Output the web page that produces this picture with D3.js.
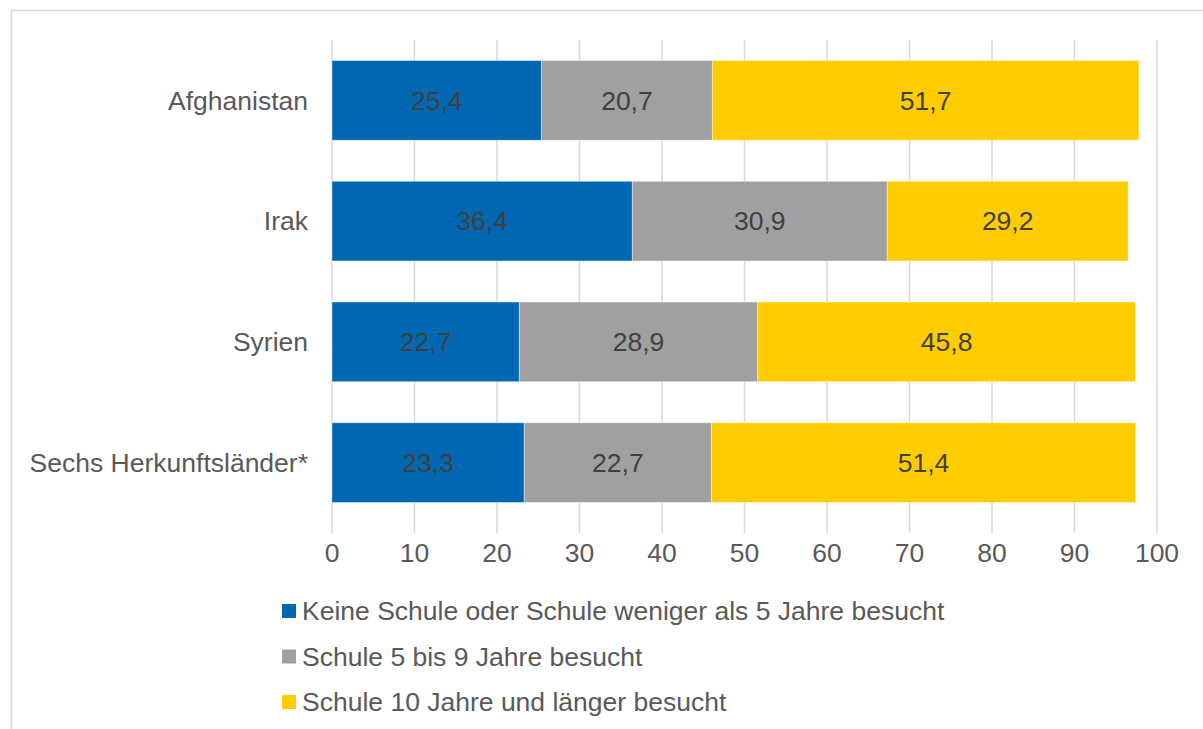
<!DOCTYPE html>
<html>
<head>
<meta charset="utf-8">
<script src="https://cdnjs.cloudflare.com/ajax/libs/d3/7.8.5/d3.min.js"></script>
<style>
  body { margin: 0; background: #fff; }
  svg { display: block; font-family: "Liberation Sans", Arial, sans-serif; }
</style>
</head>
<body>
<svg width="1203" height="729"></svg>
<script>
var countries = ["Afghanistan", "Irak", "Syrien", "Sechs Herkunftsländer*"];
var keineSchule = [25.4, 36.4, 22.7, 23.3];
var schule5bis9 = [20.7, 30.9, 28.9, 22.7];
var schule10 = [51.7, 29.2, 45.8, 51.4];
var seriesNames = [
  "Keine Schule oder Schule weniger als 5 Jahre besucht",
  "Schule 5 bis 9 Jahre besucht",
  "Schule 10 Jahre und länger besucht"
];
var xTicks = [0, 10, 20, 30, 40, 50, 60, 70, 80, 90, 100];
var colors = ["#0068b3", "#a0a0a0", "#ffcc00"];
var fontSize = 26.5;

var svg = d3.select("svg");

// outer frame
svg.append("rect")
  .attr("x", 11.5).attr("y", 10.5)
  .attr("width", 1210).attr("height", 740)
  .attr("fill", "none").attr("stroke", "#d9d9d9").attr("stroke-width", 1.5);

var x = d3.scaleLinear().domain([0, 100]).range([332, 1157]);
var y = d3.scaleBand().domain(countries).range([40, 523]).paddingInner(0.34).paddingOuter(0.17);

// grid lines
svg.append("g").selectAll("line")
  .data(xTicks)
  .join("line")
  .attr("x1", d => x(d)).attr("x2", d => x(d))
  .attr("y1", 40).attr("y2", 533)
  .attr("stroke", "#d9d9d9").attr("stroke-width", 1.5);

// stacked data
var rows = countries.map((c, i) => ({country: c, v0: keineSchule[i], v1: schule5bis9[i], v2: schule10[i]}));
var stack = d3.stack().keys(["v0", "v1", "v2"])(rows);

var layers = svg.append("g").selectAll("g")
  .data(stack)
  .join("g")
  .attr("fill", (d, i) => colors[i]);

layers.selectAll("rect")
  .data(d => d)
  .join("rect")
  .attr("x", d => x(d[0]))
  .attr("y", d => y(d.data.country))
  .attr("width", d => x(d[1]) - x(d[0]))
  .attr("height", y.bandwidth())
  .attr("stroke", "#ffffff").attr("stroke-opacity", 0.5).attr("stroke-width", 0.8);

layers.selectAll("text")
  .data(d => d)
  .join("text")
  .attr("x", d => (x(d[0]) + x(d[1])) / 2)
  .attr("y", d => y(d.data.country) + y.bandwidth() / 2)
  .attr("dy", "0.35em")
  .attr("text-anchor", "middle")
  .attr("fill", "#404040")
  .attr("font-size", fontSize)
  .text(d => d3.format(".1f")(d[1] - d[0]).replace(".", ","));

// category labels
svg.append("g").selectAll("text")
  .data(countries)
  .join("text")
  .attr("x", 308)
  .attr("y", d => y(d) + y.bandwidth() / 2)
  .attr("dy", "0.35em")
  .attr("text-anchor", "end")
  .attr("fill", "#595959")
  .attr("font-size", fontSize)
  .text(d => d);

// x tick labels
svg.append("g").selectAll("text")
  .data(xTicks)
  .join("text")
  .attr("x", d => x(d))
  .attr("y", 553)
  .attr("dy", "0.35em")
  .attr("text-anchor", "middle")
  .attr("fill", "#595959")
  .attr("font-size", fontSize)
  .text(d => d);

// legend
var legend = svg.append("g").selectAll("g")
  .data(seriesNames)
  .join("g")
  .attr("transform", (d, i) => "translate(282," + (611 + i * 45.5) + ")");

legend.append("rect")
  .attr("x", 0).attr("y", -7)
  .attr("width", 14).attr("height", 14)
  .attr("fill", (d, i) => colors[i]);

legend.append("text")
  .attr("x", 20).attr("y", 0)
  .attr("dy", "0.35em")
  .attr("fill", "#595959")
  .attr("font-size", fontSize)
  .text(d => d);
</script>
</body>
</html>
